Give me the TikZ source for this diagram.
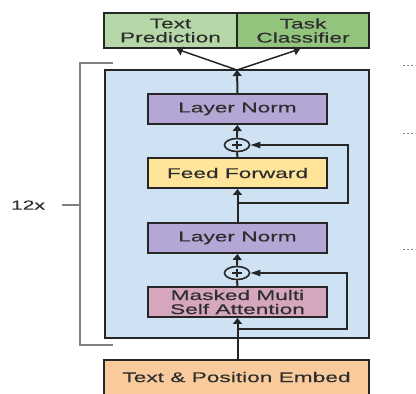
\documentclass[tikz,border=0pt]{standalone}
\usepackage{fontspec}
\setmainfont[FakeStretch=1.62,FakeBold=0.3]{Liberation Sans}
\usepackage{xcolor}
\usetikzlibrary{arrows.meta,shapes.geometric}

\definecolor{lineGray}{HTML}{262626}
\definecolor{textGray}{HTML}{2E2E2E}
\definecolor{predGreen}{HTML}{B6D7A8}
\definecolor{taskGreen}{HTML}{93C47D}
\definecolor{blockBlue}{HTML}{CFE2F3}
\definecolor{normPurple}{HTML}{B4A7D6}
\definecolor{ffYellow}{HTML}{FFE599}
\definecolor{attnPink}{HTML}{D5A6BD}
\definecolor{embedOrange}{HTML}{F9CB9C}

\begin{document}
\begin{tikzpicture}[x=1pt,y=1pt,line width=2pt,
  box/.style={draw=lineGray,line width=2pt,minimum width=179pt,minimum height=30pt,
    inner sep=0pt,align=center,text=textGray,font=\fontsize{14}{14}\selectfont},
  addnode/.style={draw=lineGray,line width=1.6pt,ellipse,minimum width=25pt,minimum height=13pt,inner sep=0pt},
  flow/.style={draw=lineGray,-{Triangle[length=6pt,width=9pt]}},
  loop/.style={draw=lineGray,line width=1.8pt,-{Triangle[length=10pt,width=6pt]}}]

\clip (0,0) rectangle (416,394);
\fill[white] (0,0) rectangle (416,394);

% heads on top
\node[box,fill=predGreen,minimum width=133pt,minimum height=35pt] (TextPrediction) at (170.5,363.5) {Text\\Prediction};
\node[box,fill=taskGreen,minimum width=132pt,minimum height=35pt] (TaskClassifier) at (303,363.5) {Task\\Classifier};

% the repeated decoder block
\node[draw=lineGray,line width=2.6pt,fill=blockBlue,minimum width=264pt,minimum height=268pt,inner sep=0pt] (Block) at (237,190) {};

\node[box,fill=normPurple] (LayerNormB) at (237.5,285) {Layer Norm};
\node[addnode] (AddB) at (237,249) {};
\node[box,fill=ffYellow] (FeedForward) at (237.5,221) {Feed Forward};
\node[box,fill=normPurple] (LayerNormA) at (237.5,156) {Layer Norm};
\node[addnode] (AddA) at (237,121) {};
\node[box,fill=attnPink] (Attention) at (237.5,92) {Masked Multi\\Self Attention};

% input embedding, runs off the bottom
\node[box,fill=embedOrange,minimum width=265pt,minimum height=46pt,text depth=12pt] (Embed) at (236.5,11) {Text \& Position Embed};

% plus signs
\foreach \a in {AddA,AddB}{
  \draw[line width=1.4pt,draw=lineGray] (\a.center) +(-5,0) -- +(5,0);
  \draw[line width=1.4pt,draw=lineGray] (\a.center) +(0,-4) -- +(0,4);
}

\coordinate (Merge) at (237,324);
\coordinate (AttnIn) at (237,65);
\coordinate (FfIn) at (237,191);

% main path
\draw[flow] (Embed.north -| Attention.south) -- (Attention.south);
\draw[lineGray] (Attention.north) -- (AddA.south);
\draw[flow] (AddA.north) -- (LayerNormA.south);
\draw[flow] (LayerNormA.north) -- (FeedForward.south);
\draw[lineGray] (FeedForward.north) -- (AddB.south);
\draw[flow] (AddB.north) -- (LayerNormB.south);
\draw[flow] (LayerNormB.north) -- (Merge);
\draw[flow,line width=1.5pt] (Merge) -- ([xshift=6pt]TextPrediction.south);
\draw[flow,line width=1.5pt] (Merge) -- ([xshift=-3pt]TaskClassifier.south);

% residual connections
\draw[loop] (AttnIn) -- ++(110,0) |- (AddA.east);
\draw[loop] (FfIn) -- ++(111,0) |- (AddB.east);

% 12x bracket
\draw[gray,line width=1.4pt] (113,331) -- (80,331) -- (80,49) -- (113,49);
\draw[gray,line width=1.2pt] (62,189) -- (80,189);
\node[text=textGray,font=\fontsize{13}{13}\selectfont] (Repeat) at (28,189) {12x};

% leftover dotted marks on the right
\foreach \y in {329,261,145}
  \draw[gray,line width=0.9pt,dash pattern=on 2pt off 2pt] (403,\y) -- (415,\y);

\end{tikzpicture}
\end{document}
